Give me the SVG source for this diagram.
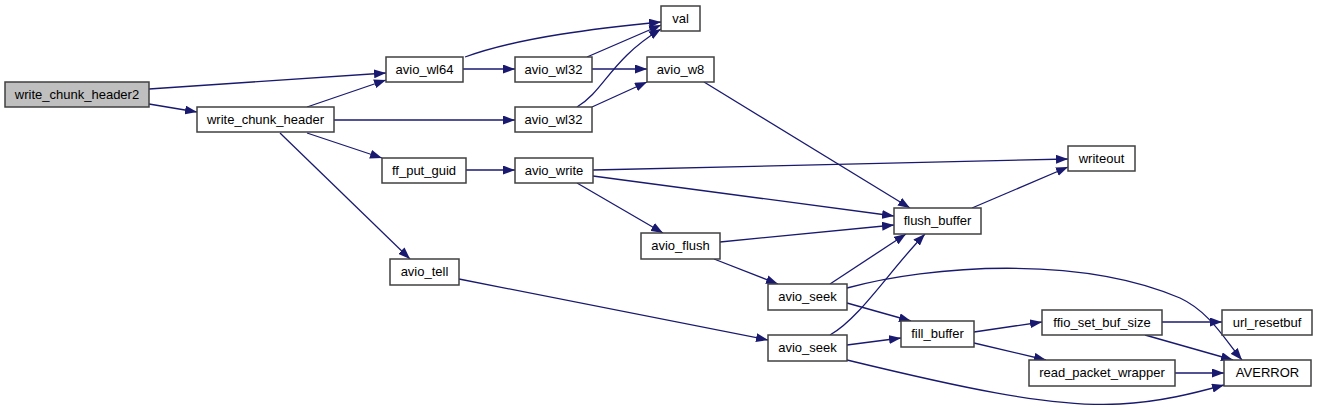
<svg xmlns="http://www.w3.org/2000/svg" width="1317" height="410" viewBox="0 0 1317 410">
<style>
rect.n{fill:#ffffff;stroke:#404040;stroke-width:1.5}
rect.root{fill:#bfbfbf}
text{font-family:"Liberation Sans",Arial,sans-serif;font-size:13px;fill:#000;text-anchor:middle}
#edges path{fill:none;stroke:#191970;stroke-width:1.3;marker-end:url(#arr)}
</style>
<defs>
<marker id="arr" viewBox="0 0 12 9" refX="12" refY="4.5" markerWidth="12" markerHeight="9" markerUnits="userSpaceOnUse" orient="auto">
<path d="M0,0 L12,4.5 L0,9 z" fill="#191970"/>
</marker>
</defs>
<rect width="1317" height="410" fill="#ffffff"/>
<g id="edges">
<path d="M149,89 L386,73"/>
<path d="M149,104 L197,112"/>
<path d="M307,107 L386,80"/>
<path d="M334,120 L515,120"/>
<path d="M307,133 L382,158"/>
<path d="M280,133 L410,259"/>
<path d="M465,57 C520,37 600,28 661,22"/>
<path d="M463,69 L515,69"/>
<path d="M587,57 L661,25"/>
<path d="M592,69 L647,69"/>
<path d="M577,107 C605,90 610,60 661,29"/>
<path d="M592,107 L647,82"/>
<path d="M704,82 L910,208"/>
<path d="M466,170 L515,170"/>
<path d="M593,170 L1068,159"/>
<path d="M593,176 L894,216"/>
<path d="M577,183 L663,233"/>
<path d="M720,242 L894,225"/>
<path d="M714,259 L778,284"/>
<path d="M830,284 L906,234"/>
<path d="M847,288 C930,265 1080,255 1180,298 C1210,312 1225,340 1242,360"/>
<path d="M847,303 L911,321"/>
<path d="M830,335 C860,318 890,270 925,234"/>
<path d="M847,345 L901,338"/>
<path d="M847,360 C950,385 1050,408 1120,404 C1160,402 1195,393 1224,385"/>
<path d="M459,279 L768,340"/>
<path d="M974,332 L1042,322"/>
<path d="M974,343 L1046,360"/>
<path d="M1162,322 L1222,322"/>
<path d="M1145,335 L1233,360"/>
<path d="M1175,373 L1224,373"/>
<path d="M972,208 L1068,167"/>
</g>
<g id="write_chunk_header2"><rect class="n root" x="5" y="82" width="144" height="25"/><text x="77" y="99">write_chunk_header2</text></g>
<g id="write_chunk_header"><rect class="n" x="197" y="107" width="137" height="25"/><text x="265.5" y="124">write_chunk_header</text></g>
<g id="avio_wl64"><rect class="n" x="386" y="57" width="77" height="25"/><text x="424.5" y="74">avio_wl64</text></g>
<g id="avio_wl32_a"><rect class="n" x="515" y="57" width="77" height="25"/><text x="553.5" y="74">avio_wl32</text></g>
<g id="avio_wl32_b"><rect class="n" x="515" y="107" width="77" height="25"/><text x="553.5" y="124">avio_wl32</text></g>
<g id="val"><rect class="n" x="661" y="6" width="39" height="25"/><text x="680.5" y="23">val</text></g>
<g id="avio_w8"><rect class="n" x="647" y="57" width="67" height="25"/><text x="680.5" y="74">avio_w8</text></g>
<g id="ff_put_guid"><rect class="n" x="382" y="158" width="84" height="25"/><text x="424" y="175">ff_put_guid</text></g>
<g id="avio_write"><rect class="n" x="515" y="158" width="78" height="25"/><text x="554" y="175">avio_write</text></g>
<g id="writeout"><rect class="n" x="1068" y="146" width="67" height="25"/><text x="1101.5" y="163">writeout</text></g>
<g id="flush_buffer"><rect class="n" x="894" y="208" width="87" height="26"/><text x="937.5" y="225">flush_buffer</text></g>
<g id="avio_flush"><rect class="n" x="641" y="233" width="79" height="26"/><text x="680.5" y="250">avio_flush</text></g>
<g id="avio_tell"><rect class="n" x="390" y="259" width="69" height="26"/><text x="424.5" y="276">avio_tell</text></g>
<g id="avio_seek_a"><rect class="n" x="768" y="284" width="79" height="26"/><text x="807.5" y="301">avio_seek</text></g>
<g id="avio_seek_b"><rect class="n" x="768" y="335" width="79" height="26"/><text x="807.5" y="352">avio_seek</text></g>
<g id="fill_buffer"><rect class="n" x="901" y="321" width="73" height="26"/><text x="937.5" y="338">fill_buffer</text></g>
<g id="ffio_set_buf_size"><rect class="n" x="1042" y="310" width="120" height="25"/><text x="1102" y="327">ffio_set_buf_size</text></g>
<g id="url_resetbuf"><rect class="n" x="1222" y="310" width="90" height="25"/><text x="1267" y="327">url_resetbuf</text></g>
<g id="read_packet_wrapper"><rect class="n" x="1029" y="360" width="146" height="26"/><text x="1102" y="377">read_packet_wrapper</text></g>
<g id="AVERROR"><rect class="n" x="1224" y="360" width="87" height="26"/><text x="1267.5" y="377">AVERROR</text></g>
</svg>
